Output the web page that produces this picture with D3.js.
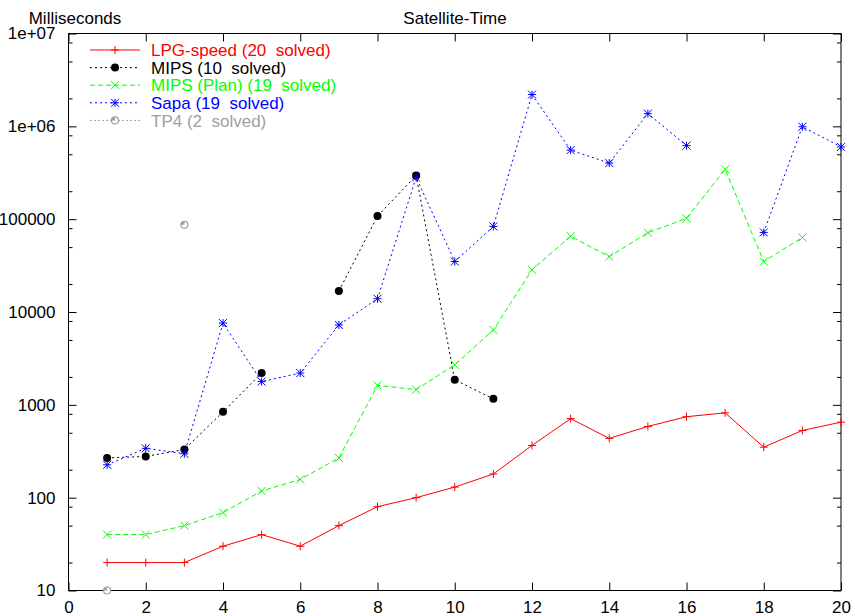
<!DOCTYPE html>
<html>
<head>
<meta charset="utf-8">
<script src="https://cdn.jsdelivr.net/npm/d3@7"></script>
<style>
body { margin: 0; background: #fff; }
svg { font-family: "Liberation Sans", Arial, sans-serif; }
text { white-space: pre; }
</style>
</head>
<body>
<div id="chart"></div>
<script>
const width = 855, height = 616;
const margin = { top: 33.5, right: 14, bottom: 25.5, left: 68.5 };
const fontSize = 17;

// problem numbers on the x axis
const problems = d3.range(1, 21);

// milliseconds per problem, null = not solved
const lpgSpeed = [20, 20, 20, 30, 40, 30, 50, 80, 100, 130, 180, 365, 710, 435, 585, 745, 820, 350, 530, 650];
const mips     = [268, 278, 330, 840, 2200, null, 16800, 108000, 295000, 1860, 1160, null, null, null, null, null, null, null, null, null];
const mipsPlan = [40, 40, 50, 69, 118, 157, 268, 1620, 1460, 2700, 6400, 28500, 65500, 39500, 71500, 102000, 345000, 35000, 63500, null];
const sapa     = [226, 340, 297, 7600, 1780, 2200, 7250, 13900, 282000, 35000, 83500, 2200000, 555000, 402000, 1370000, 620000, null, 72000, 990000, 600000];
const tp4      = [10, null, 87000, null, null, null, null, null, null, null, null, null, null, null, null, null, null, null, null, null];

const seriesNames = ["LPG-speed (20  solved)", "MIPS (10  solved)", "MIPS (Plan) (19  solved)", "Sapa (19  solved)", "TP4 (2  solved)"];

const xTicks = [0, 2, 4, 6, 8, 10, 12, 14, 16, 18, 20];
const yTicks = [10, 100, 1000, 10000, 100000, 1000000, 10000000];
const yTickLabels = ["10", "100", "1000", "10000", "100000", "1e+06", "1e+07"];
const yMinorTicks = [20, 50, 80, 200, 500, 800, 2000, 5000, 8000, 20000, 50000, 80000,
  200000, 500000, 800000, 2000000, 5000000, 8000000];

const styles = [
  { color: "#ff0000", dash: null, marker: "plus" },
  { color: "#000000", dash: "2,3", marker: "dot" },
  { color: "#00ff00", dash: "5,3", marker: "cross" },
  { color: "#0000ff", dash: "2,3", marker: "star" },
  { color: "#a0a0a0", dash: "2,2", marker: "ring" }
];

const series = [lpgSpeed, mips, mipsPlan, sapa, tp4].map((vals, i) => ({
  name: seriesNames[i],
  style: styles[i],
  values: problems.map((p, j) => ({ x: p, y: vals[j] }))
}));

const xScale = d3.scaleLinear().domain([0, 20]).range([margin.left, width - margin.right]);
const yScale = d3.scaleLog().domain([10, 1e7]).range([height - margin.bottom, margin.top]);

const svg = d3.select("#chart").append("svg")
  .attr("width", width)
  .attr("height", height);

// axes, gnuplot style: ticks point inward, mirrored on top/right
const fmtY = d => yTickLabels[yTicks.indexOf(d)];

svg.append("g")
  .attr("class", "y-axis")
  .attr("transform", `translate(${margin.left},0)`)
  .call(d3.axisLeft(yScale).tickValues(yTicks).tickFormat(fmtY).tickSizeInner(-8).tickSizeOuter(0).tickPadding(13));

svg.append("g")
  .attr("transform", `translate(${margin.left},0)`)
  .call(d3.axisLeft(yScale).tickValues(yMinorTicks).tickFormat("").tickSizeInner(-4).tickSizeOuter(0));

svg.append("g")
  .attr("transform", `translate(${width - margin.right},0)`)
  .call(d3.axisRight(yScale).tickValues(yTicks).tickFormat("").tickSizeInner(-8).tickSizeOuter(0));

svg.append("g")
  .attr("transform", `translate(${width - margin.right},0)`)
  .call(d3.axisRight(yScale).tickValues(yMinorTicks).tickFormat("").tickSizeInner(-4).tickSizeOuter(0));

svg.append("g")
  .attr("class", "x-axis")
  .attr("transform", `translate(0,${height - margin.bottom})`)
  .call(d3.axisBottom(xScale).tickValues(xTicks).tickFormat(d3.format("d")).tickSizeInner(-8).tickSizeOuter(0).tickPadding(10));

svg.append("g")
  .attr("transform", `translate(0,${margin.top})`)
  .call(d3.axisTop(xScale).tickValues(xTicks).tickFormat("").tickSizeInner(-8).tickSizeOuter(0));

svg.selectAll(".domain").remove();
svg.selectAll(".tick line").attr("stroke", "#000");
svg.selectAll(".tick text").attr("font-size", fontSize).attr("fill", "#000").attr("font-family", null);

svg.append("rect")
  .attr("x", margin.left)
  .attr("y", margin.top)
  .attr("width", width - margin.right - margin.left)
  .attr("height", height - margin.bottom - margin.top)
  .attr("fill", "none")
  .attr("stroke", "#000");

// titles
svg.append("text")
  .attr("x", 75).attr("y", 23.5)
  .attr("text-anchor", "middle")
  .attr("font-size", fontSize)
  .text("Milliseconds");

svg.append("text")
  .attr("x", 455).attr("y", 23.5)
  .attr("text-anchor", "middle")
  .attr("font-size", fontSize)
  .text("Satellite-Time");

// marker drawing
function drawMarker(g, type, color) {
  const s = 4;
  if (type === "plus") {
    g.append("path").attr("d", `M${-s},0H${s}M0,${-s}V${s}`).attr("stroke", color).attr("fill", "none");
  } else if (type === "cross") {
    g.append("path").attr("d", `M${-s},${-s}L${s},${s}M${-s},${s}L${s},${-s}`).attr("stroke", color).attr("fill", "none");
  } else if (type === "star") {
    g.append("path").attr("d", `M${-s},0H${s}M0,${-s}V${s}M${-s},${-s}L${s},${s}M${-s},${s}L${s},${-s}`).attr("stroke", color).attr("fill", "none");
  } else if (type === "dot") {
    g.append("circle").attr("r", 4).attr("fill", color);
  } else if (type === "ring") {
    g.append("circle").attr("r", 3.5).attr("fill", "#fff").attr("stroke", color).attr("stroke-width", 1.2);
    g.append("path")
      .attr("d", d3.arc()({ innerRadius: 0, outerRadius: 3.5, startAngle: -Math.PI / 2, endAngle: 0 }))
      .attr("fill", color);
  }
}

const line = d3.line()
  .defined(d => d.y != null)
  .x(d => xScale(d.x))
  .y(d => yScale(d.y));

series.forEach(s => {
  const g = svg.append("g").attr("class", "series");
  g.append("path")
    .datum(s.values)
    .attr("d", line)
    .attr("fill", "none")
    .attr("stroke", s.style.color)
    .attr("stroke-width", 1)
    .attr("stroke-dasharray", s.style.dash);

  g.selectAll("g.pt")
    .data(s.values.filter(d => d.y != null))
    .join("g")
    .attr("class", "pt")
    .attr("transform", d => `translate(${xScale(d.x)},${yScale(d.y)})`)
    .each(function () { drawMarker(d3.select(this), s.style.marker, s.style.color); });
});

// legend
const legend = svg.append("g").attr("class", "legend");
series.forEach((s, i) => {
  const y = 50 + i * 17.6;
  legend.append("line")
    .attr("x1", 90).attr("x2", 140)
    .attr("y1", y).attr("y2", y)
    .attr("stroke", s.style.color)
    .attr("stroke-dasharray", s.style.dash);
  const m = legend.append("g").attr("transform", `translate(115,${y})`);
  drawMarker(m, s.style.marker, s.style.color);
  legend.append("text")
    .attr("x", 151).attr("y", y)
    .attr("dy", "0.36em")
    .attr("font-size", fontSize)
    .attr("fill", s.style.color)
    .text(s.name);
});
</script>
</body>
</html>
